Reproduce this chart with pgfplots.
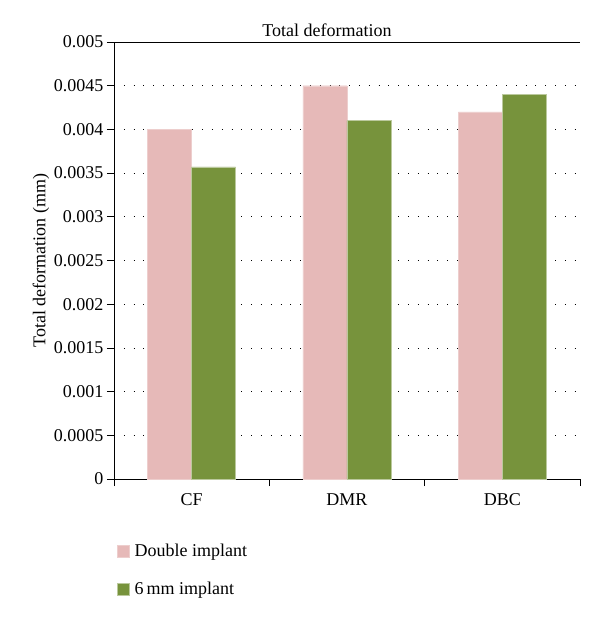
\documentclass[border=0pt]{standalone}
\usepackage{pgfplots}
\pgfplotsset{compat=1.18}
\usepackage{fontspec}
\setmainfont{Liberation Serif}
\definecolor{pinkbar}{HTML}{E6B9B8}
\definecolor{greenbar}{HTML}{77933C}
\newcommand{\ff}{\fontsize{18}{21}\selectfont}
\begin{document}
\begin{tikzpicture}
\path[use as bounding box] (-114pt,-140pt) rectangle (486pt,479pt);
\begin{axis}[
  at={(0pt,0pt)}, anchor=south west,
  scale only axis, width=466pt, height=437pt,
  /pgf/number format/assume math mode=true,
  scaled y ticks=false,
  tick label style={font=\ff},
  label style={font=\ff},
  ybar=0pt, bar width=44pt,
  xmin=-0.5, xmax=2.5, ymin=0, ymax=0.005,
  xtick={-0.5,0.5,1.5,2.5},
  x tick label as interval,
  xticklabels={CF,DMR,DBC},
  ytick={0,0.0005,0.001,0.0015,0.002,0.0025,0.003,0.0035,0.004,0.0045,0.005},
  yticklabels={0,0.0005,0.001,0.0015,0.002,0.0025,0.003,0.0035,0.004,0.0045,0.005},
  axis x line*=bottom, axis y line*=left,
  axis line style={line width=0.9pt},
  tick align=outside, major tick length=7pt,
  tick style={black, line width=0.8pt},
  ymajorgrids,
  major grid style={black, line width=0.7pt, dash pattern=on 0.8pt off 9pt},
  ylabel={Total deformation (mm)},
  ylabel style={yshift=-2pt},
  title={Total deformation},
  title style={font=\ff, at={(0.457,1)}, yshift=-4pt},
  xticklabel style={yshift=-4pt},
  legend style={draw=none, at={(0.0,-0.14)}, anchor=north west, row sep=20pt,
    font=\ff, fill=none, nodes={inner xsep=5pt}},
  legend cell align=left,
  legend image code/.code={\fill[#1] (0pt,-6pt) rectangle (12pt,6pt);},
]
\addplot[fill=pinkbar, draw=pinkbar!70!white] coordinates {(0,0.0040) (1,0.0045) (2,0.0042)};
\addplot[fill=greenbar, draw=greenbar!50!white] coordinates {(0,0.00357) (1,0.0041) (2,0.0044)};
\legend{Double implant, 6\,mm implant}
\draw[line width=0.9pt] (rel axis cs:0,1) -- (rel axis cs:1,1);
\end{axis}
\end{tikzpicture}
\end{document}
